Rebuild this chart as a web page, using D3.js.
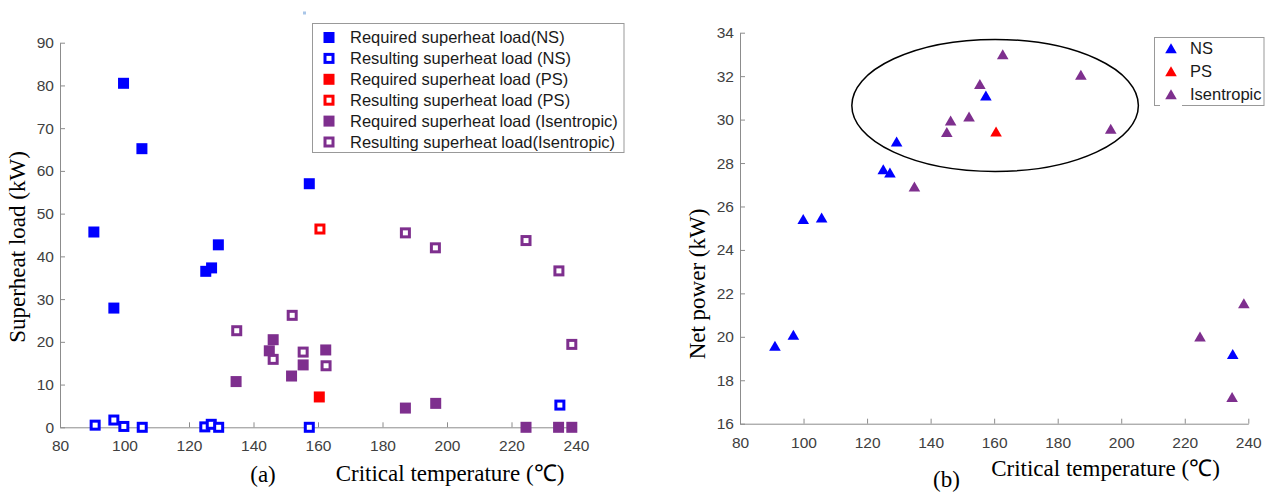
<!DOCTYPE html>
<html>
<head>
<meta charset="utf-8">
<script src="https://cdn.jsdelivr.net/npm/d3@7"></script>
<style>
body {margin: 0; background: #fff;}
</style>
</head>
<body>
<svg class="chart"></svg>
<script>
// (a) superheat load vs critical temperature
var reqNSTemp = [90.5, 96.7, 99.7, 105.4, 125.2, 127.0, 129.1, 157.3],
    reqNSLoad = [45.7, 27.9, 80.5, 65.2, 36.5, 37.3, 42.7, 57.0];
var resNSTemp = [90.9, 96.7, 99.8, 105.5, 124.9, 126.9, 129.2, 157.3, 235.0],
    resNSLoad = [0.5, 1.7, 0.2, 0, 0.1, 0.7, 0, 0, 5.2];
var reqPSTemp = [160.4], reqPSLoad = [7.1];
var resPSTemp = [160.6], resPSLoad = [46.4];
var reqIseTemp = [134.6, 144.9, 146.1, 151.8, 155.4, 162.4, 187.1, 196.5, 224.5, 234.6, 238.7],
    reqIseLoad = [10.7, 17.9, 20.5, 12.0, 14.6, 18.1, 4.5, 5.6, 0, 0, 0];
var resIseTemp = [134.8, 146.1, 152.0, 155.4, 162.5, 187.1, 196.4, 224.5, 234.7, 238.7],
    resIseLoad = [22.6, 15.9, 26.2, 17.6, 14.4, 45.5, 42.0, 43.7, 36.6, 19.4];

// (b) net power vs critical temperature
var nsTemp = [91.0, 96.8, 99.9, 105.7, 125.1, 127.2, 129.3, 157.4, 235.1],
    nsPower = [19.58, 20.08, 25.41, 25.48, 27.71, 27.56, 28.98, 31.1, 19.2];
var psTemp = [160.6], psPower = [29.44];
var iseTemp = [134.9, 145.1, 146.3, 152.1, 155.5, 162.7, 187.3, 196.7, 224.8, 238.6, 234.9],
    isePower = [26.91, 29.42, 29.95, 30.13, 31.63, 33.0, 32.05, 29.57, 20.0, 21.54, 17.22];

var xTicks = [80, 100, 120, 140, 160, 180, 200, 220, 240];
var loadTicks = [0, 10, 20, 30, 40, 50, 60, 70, 80, 90];
var powerTicks = [16, 18, 20, 22, 24, 26, 28, 30, 32, 34];

var legendA = ["Required superheat load(NS)", "Resulting superheat load (NS)",
    "Required superheat load (PS)", "Resulting superheat load (PS)",
    "Required superheat load (Isentropic)", "Resulting superheat load(Isentropic)"];
var legendB = ["NS", "PS", "Isentropic"];

// circled region in (b): centre and half-widths in data units
var ringTemp = 160.3, ringPower = 30.65, ringDT = 45.1, ringDP = 3.04;

function show() {

    'use strict';
    var width = 1271, height = 494;
    var blue = "#0000ff", red = "#ff0000", purple = "#7e2f8e";
    var sans = "'Liberation Sans', Arial, sans-serif",
        serif = "'Liberation Serif', 'Times New Roman', serif";

    var svg = d3.select(".chart")
        .attr("width", width)
        .attr("height", height)
        .style("font-family", sans);

    var zip = function(xs, ys) {return xs.map(function(x, i) {return [x, ys[i]]})};

    function styleAxis(g) {
        g.selectAll("path, line").attr("stroke", "#8c8c8c");
        g.selectAll("text").attr("fill", "#404040").style("font-size", "15.5px").style("font-family", sans);
    }

    // ---------- chart (a) ----------
    var xA = d3.scaleLinear().domain([80, 240]).range([60, 576]);
    var yA = d3.scaleLinear().domain([0, 90]).range([427.3, 42.7]);

    svg.append("g")
        .attr("transform", "translate(0," + yA(0) + ")")
        .call(d3.axisBottom(xA).tickValues(xTicks).tickSizeInner(-5).tickSizeOuter(0).tickPadding(12.5))
        .call(styleAxis);
    svg.append("g")
        .attr("transform", "translate(" + xA(80) + ",0)")
        .call(d3.axisLeft(yA).tickValues(loadTicks).tickSizeInner(-5).tickSizeOuter(0).tickPadding(6))
        .call(styleAxis);

    function squares(xs, ys, color, hollow) {
        svg.append("g").selectAll("rect").data(zip(xs, ys)).enter()
            .append("rect")
            .attr("x", function(d) {return xA(d[0]) - (hollow ? 4 : 5.5)})
            .attr("y", function(d) {return yA(d[1]) - (hollow ? 4 : 5.5)})
            .attr("width", hollow ? 8 : 11)
            .attr("height", hollow ? 8 : 11)
            .attr("fill", hollow ? "#fff" : color)
            .attr("stroke", hollow ? color : "none")
            .attr("stroke-width", 3);
    }
    squares(resNSTemp, resNSLoad, blue, true);
    squares(reqNSTemp, reqNSLoad, blue, false);
    squares(resIseTemp, resIseLoad, purple, true);
    squares(reqIseTemp, reqIseLoad, purple, false);
    squares(resPSTemp, resPSLoad, red, true);
    squares(reqPSTemp, reqPSLoad, red, false);

    // legend (a)
    svg.append("rect").attr("x", 303).attr("y", 11.5).attr("width", 3).attr("height", 3).attr("fill", "#a9c6e8");
    svg.append("rect")
        .attr("x", 312.5).attr("y", 23.5).attr("width", 311.5).attr("height", 129)
        .attr("fill", "#fff").attr("stroke", "#999");
    var legColors = [blue, blue, red, red, purple, purple];
    var legA = svg.append("g").selectAll("g").data(legendA).enter().append("g")
        .attr("transform", function(d, i) {return "translate(329," + (37.5 + i * 20.9) + ")"});
    legA.append("rect")
        .attr("x", function(d, i) {return i % 2 ? -4 : -5.5})
        .attr("y", function(d, i) {return i % 2 ? -4 : -5.5})
        .attr("width", function(d, i) {return i % 2 ? 8 : 11})
        .attr("height", function(d, i) {return i % 2 ? 8 : 11})
        .attr("fill", function(d, i) {return i % 2 ? "#fff" : legColors[i]})
        .attr("stroke", function(d, i) {return i % 2 ? legColors[i] : "none"})
        .attr("stroke-width", 3);
    legA.append("text")
        .attr("x", 21).attr("dy", "0.35em")
        .attr("fill", "#1a1a1a").style("font-size", "16.5px")
        .text(function(d) {return d});

    svg.append("text")
        .attr("transform", "translate(25,247) rotate(-90)")
        .attr("text-anchor", "middle")
        .style("font-family", serif).style("font-size", "23px")
        .text("Superheat load (kW)");
    svg.append("text")
        .attr("x", 450).attr("y", 481).attr("text-anchor", "middle")
        .style("font-family", serif).style("font-size", "23px")
        .text("Critical temperature (\u2103)");
    svg.append("text")
        .attr("x", 263).attr("y", 482).attr("text-anchor", "middle")
        .style("font-family", serif).style("font-size", "23px")
        .text("(a)");

    // ---------- chart (b) ----------
    var xB = d3.scaleLinear().domain([80, 240]).range([740, 1248.3]);
    var yB = d3.scaleLinear().domain([16, 34]).range([423.7, 32.7]);

    svg.append("g")
        .attr("transform", "translate(0," + yB(16) + ")")
        .call(d3.axisBottom(xB).tickValues(xTicks).tickSizeInner(-5).tickSizeOuter(0).tickPadding(13))
        .call(styleAxis);
    svg.append("g")
        .attr("transform", "translate(" + xB(80) + ",0)")
        .call(d3.axisLeft(yB).tickValues(powerTicks).tickSizeInner(-5).tickSizeOuter(0).tickPadding(6))
        .call(styleAxis);

    var tri = "M0,-5.2L5.8,4.8L-5.8,4.8Z";
    function triangles(xs, ys, color) {
        svg.append("g").selectAll("path").data(zip(xs, ys)).enter()
            .append("path")
            .attr("d", tri)
            .attr("transform", function(d) {return "translate(" + xB(d[0]) + "," + yB(d[1]) + ")"})
            .attr("fill", color);
    }
    triangles(nsTemp, nsPower, blue);
    triangles(psTemp, psPower, red);
    triangles(iseTemp, isePower, purple);

    svg.append("ellipse")
        .attr("cx", xB(ringTemp)).attr("cy", yB(ringPower))
        .attr("rx", xB(ringTemp + ringDT) - xB(ringTemp))
        .attr("ry", yB(ringPower - ringDP) - yB(ringPower))
        .attr("fill", "none").attr("stroke", "#000").attr("stroke-width", 1.5);

    // legend (b)
    svg.append("rect")
        .attr("x", 1154.5).attr("y", 37.5).attr("width", 109.5).attr("height", 68)
        .attr("fill", "#fff").attr("stroke", "#999");
    svg.append("line").attr("x1", 1160).attr("x2", 1182).attr("y1", 105.5).attr("y2", 105.5)
        .attr("stroke", "#fff").attr("stroke-width", 1.5);
    var triColors = [blue, red, purple];
    var legB = svg.append("g").selectAll("g").data(legendB).enter().append("g")
        .attr("transform", function(d, i) {return "translate(1171," + (48.5 + i * 23) + ")"});
    legB.append("path").attr("d", tri).attr("fill", function(d, i) {return triColors[i]});
    legB.append("text")
        .attr("x", 19).attr("dy", "0.35em")
        .attr("fill", "#1a1a1a").style("font-size", "16.5px")
        .text(function(d) {return d});

    svg.append("text")
        .attr("transform", "translate(705,284) rotate(-90)")
        .attr("text-anchor", "middle")
        .style("font-family", serif).style("font-size", "23px")
        .text("Net power (kW)");
    svg.append("text")
        .attr("x", 1105.5).attr("y", 476).attr("text-anchor", "middle")
        .style("font-family", serif).style("font-size", "23px")
        .text("Critical temperature (\u2103)");
    svg.append("text")
        .attr("x", 946.5).attr("y", 487).attr("text-anchor", "middle")
        .style("font-family", serif).style("font-size", "23px")
        .text("(b)");
}

show();
</script>
</body>
</html>
